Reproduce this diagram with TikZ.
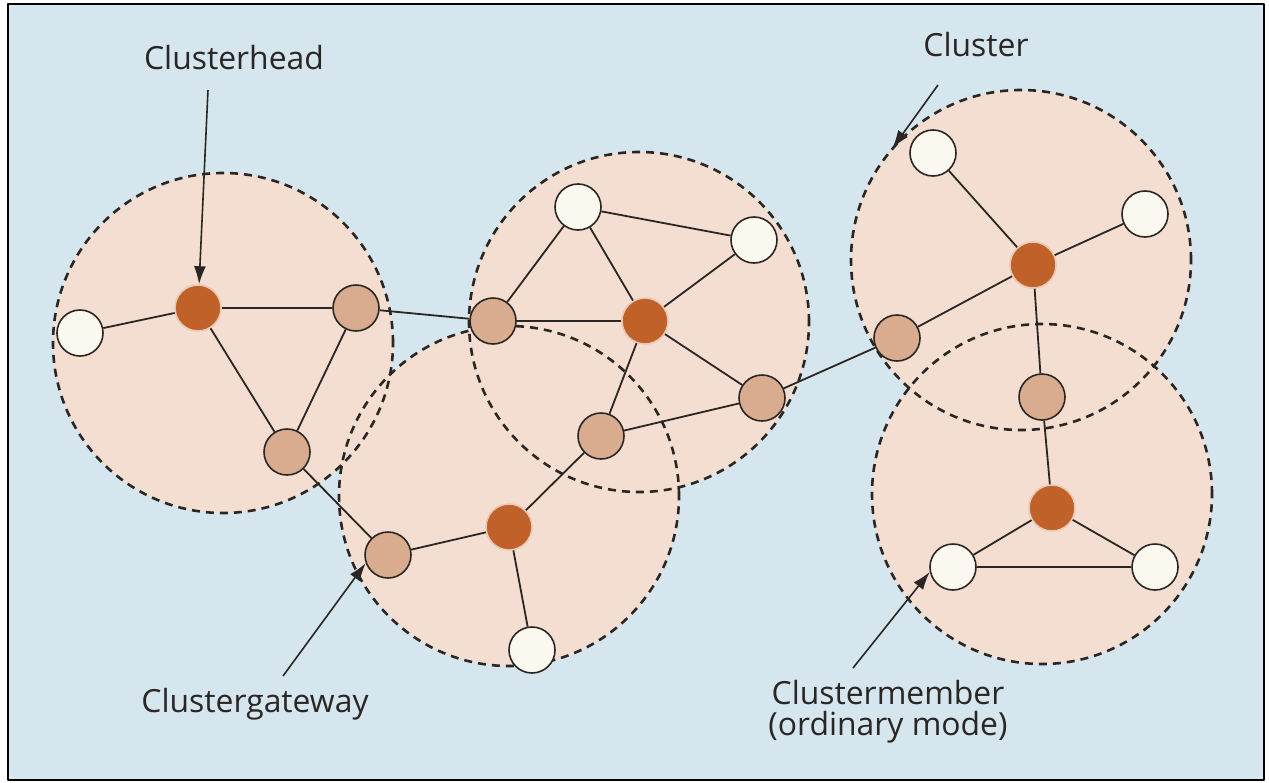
\documentclass[tikz,border=0pt]{standalone}
\usepackage{fontspec}
\setmainfont{Open Sans}
\usepackage{tikz}
\usetikzlibrary{arrows.meta}

\definecolor{bgblue}{HTML}{D5E6EF}
\definecolor{clusterpeach}{HTML}{F4DED1}
\definecolor{headbrown}{HTML}{C0612A}
\definecolor{gatetan}{HTML}{D9AC90}
\definecolor{memberwhite}{HTML}{FBF8F0}
\definecolor{linegray}{HTML}{2A2624}

\begin{document}
\begin{tikzpicture}[x=0.5bp,y=-0.5bp,>={Latex[length=9bp,width=6bp]},line join=bevel,
  clusterarea/.style={circle,minimum size=170bp,inner sep=0pt,fill=clusterpeach},
  clusteredge/.style={draw=linegray,line width=1.3bp,dash pattern=on 4bp off 3bp},
  head/.style={circle,minimum size=23bp,inner sep=0pt,fill=headbrown,
               draw=headbrown!35!white,line width=0.8bp},
  gateway/.style={circle,minimum size=23bp,inner sep=0pt,fill=gatetan,
                  draw=linegray,line width=0.8bp},
  member/.style={circle,minimum size=23bp,inner sep=0pt,fill=memberwhite,
                 draw=linegray,line width=0.8bp},
  link/.style={draw=linegray,line width=0.9bp},
  pointer/.style={->,draw=linegray,line width=0.8bp},
  caption/.style={font=\fontsize{16}{15.5}\selectfont,align=center,text=linegray},
  ]
%%
\useasboundingbox (0,0) rectangle (1269,782);
\fill[white] (0,0) rectangle (1269,782);
\draw[fill=bgblue,line width=1bp] (8,4) rectangle (1264,780);
%% cluster areas
  \node (cl1) at (223,343) [clusterarea] {};
  \node (cl2) at (639,322) [clusterarea] {};
  \node (cl3) at (509,496) [clusterarea] {};
  \node (cl4) at (1021,260) [clusterarea] {};
  \node (cl5) at (1042,494) [clusterarea] {};
  \foreach \c in {cl1,cl2,cl3,cl4,cl5}
    \draw[clusteredge] (\c.center) circle (85bp);
%% nodes
  \node (head1) at (198,308) [head] {};
  \node (member1_1) at (80,333) [member] {};
  \node (gate1_1) at (356,308) [gateway] {};
  \node (gate1_2) at (287,452) [gateway] {};

  \node (head2) at (645,321) [head] {};
  \node (member2_1) at (578,207) [member] {};
  \node (member2_2) at (754,240) [member] {};
  \node (gate2_1) at (493,321) [gateway] {};
  \node (gate2_2) at (762,398) [gateway] {};
  \node (gate2_3) at (601,436) [gateway] {};

  \node (head3) at (509,527) [head] {};
  \node (gate3_1) at (388,555) [gateway] {};
  \node (member3_1) at (532,650) [member] {};

  \node (head4) at (1033,265) [head] {};
  \node (member4_1) at (933,153) [member] {};
  \node (member4_2) at (1145,214) [member] {};
  \node (gate4_1) at (897,338) [gateway] {};
  \node (gate4_2) at (1042,397) [gateway] {};

  \node (head5) at (1052,508) [head] {};
  \node (member5_1) at (953,567) [member] {};
  \node (member5_2) at (1155,567) [member] {};
%% links
  \draw[link] (head1) -- (member1_1);
  \draw[link] (head1) -- (gate1_1);
  \draw[link] (head1) -- (gate1_2);
  \draw[link] (gate1_1) -- (gate1_2);
  \draw[link] (gate1_1) -- (gate2_1);
  \draw[link] (gate1_2) -- (gate3_1);
  \draw[link] (member2_1) -- (member2_2);
  \draw[link] (member2_1) -- (head2);
  \draw[link] (member2_2) -- (head2);
  \draw[link] (member2_1) -- (gate2_1);
  \draw[link] (gate2_1) -- (head2);
  \draw[link] (head2) -- (gate2_2);
  \draw[link] (head2) -- (gate2_3);
  \draw[link] (gate2_3) -- (gate2_2);
  \draw[link] (gate2_2) -- (gate4_1);
  \draw[link] (gate2_3) -- (head3);
  \draw[link] (head3) -- (gate3_1);
  \draw[link] (head3) -- (member3_1);
  \draw[link] (head4) -- (member4_1);
  \draw[link] (head4) -- (member4_2);
  \draw[link] (head4) -- (gate4_1);
  \draw[link] (head4) -- (gate4_2);
  \draw[link] (gate4_2) -- (head5);
  \draw[link] (head5) -- (member5_1);
  \draw[link] (head5) -- (member5_2);
  \draw[link] (member5_1) -- (member5_2);
%% captions
  \node (headlabel) at (234,58) [caption] {Clusterhead};
  \node (clusterlabel) at (976,45) [caption] {Cluster};
  \node (gatelabel) at (255,704) [caption] {Clustergateway};
  \node (memberlabel) at (888,712) [caption] {Clustermember\\(ordinary mode)};
  \coordinate (headtail) at (208,90);
  \coordinate (clustertail) at (938,85);
  \coordinate (gatetail) at (283,676);
  \coordinate (membertail) at (853,668);
  \draw[pointer] (headtail) -- (head1);
  \draw[pointer] (clustertail) -- (cl4.139);
  \draw[pointer] (gatetail) -- (gate3_1.200);
  \draw[pointer] (membertail) -- (member5_1.192);
%
\end{tikzpicture}
\end{document}
